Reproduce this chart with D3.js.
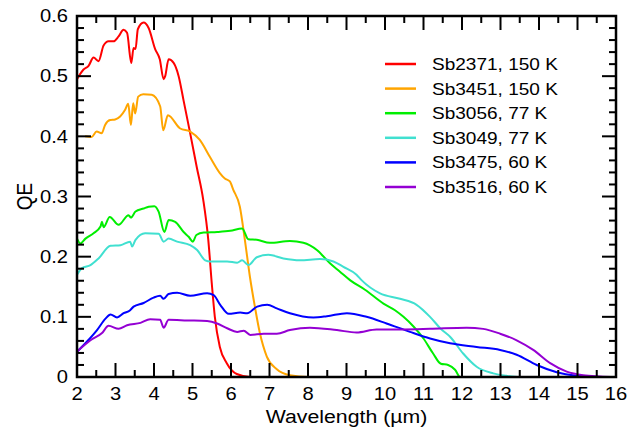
<!DOCTYPE html>
<html>
<head>
<meta charset="utf-8">
<script src="https://cdn.jsdelivr.net/npm/d3@7"></script>
<style>
  body { margin: 0; background: #fff; }
  text { font-family: "Liberation Sans", Arial, sans-serif; fill: #000; }
</style>
</head>
<body>
<div id="content"></div>
<script>
// QE spectra, [wavelength um, QE]
const sb2371 = [[2.00,0.495],[2.17,0.511],[2.30,0.517],[2.43,0.531],[2.56,0.525],[2.69,0.551],[2.82,0.558],[2.95,0.558],[3.08,0.566],[3.21,0.577],[3.30,0.572],[3.41,0.522],[3.47,0.547],[3.52,0.545],[3.58,0.578],[3.73,0.589],[3.86,0.580],[4.03,0.545],[4.15,0.528],[4.25,0.495],[4.29,0.500],[4.38,0.528],[4.51,0.522],[4.64,0.500],[4.77,0.459],[4.94,0.405],[5.11,0.349],[5.28,0.294],[5.41,0.228],[5.50,0.156],[5.58,0.100],[5.71,0.050],[5.89,0.023],[6.15,0.005],[6.50,0],[16,0]];
const sb3451 = [[2.21,0.400],[2.38,0.399],[2.51,0.408],[2.64,0.405],[2.73,0.419],[2.86,0.427],[2.99,0.428],[3.12,0.433],[3.25,0.444],[3.33,0.454],[3.40,0.419],[3.46,0.455],[3.51,0.438],[3.59,0.466],[3.72,0.470],[3.94,0.469],[4.16,0.450],[4.24,0.410],[4.36,0.435],[4.68,0.413],[4.94,0.408],[5.19,0.394],[5.45,0.366],[5.71,0.339],[5.84,0.330],[5.97,0.325],[6.06,0.311],[6.23,0.283],[6.36,0.228],[6.49,0.167],[6.62,0.117],[6.75,0.073],[6.93,0.034],[7.19,0.013],[7.53,0.003],[8.0,0],[16,0]];
const sb3056 = [[2.00,0.230],[2.09,0.222],[2.22,0.230],[2.43,0.239],[2.61,0.250],[2.65,0.258],[2.69,0.249],[2.85,0.266],[3.08,0.253],[3.34,0.269],[3.40,0.265],[3.52,0.275],[3.73,0.280],[3.86,0.283],[4.01,0.284],[4.12,0.275],[4.27,0.241],[4.38,0.261],[4.55,0.258],[4.77,0.241],[4.90,0.233],[5.01,0.225],[5.10,0.236],[5.29,0.240],[5.64,0.241],[5.98,0.243],[6.29,0.247],[6.45,0.229],[6.67,0.228],[7.01,0.223],[7.53,0.226],[7.88,0.223],[8.23,0.211],[8.57,0.189],[8.83,0.175],[9.09,0.161],[9.48,0.145],[9.96,0.122],[10.26,0.111],[10.48,0.100],[10.74,0.084],[11.00,0.064],[11.25,0.039],[11.45,0.022],[11.64,0.020],[11.82,0.012],[11.95,0],[16,0]];
const sb3049 = [[2.00,0.170],[2.13,0.181],[2.35,0.186],[2.56,0.197],[2.87,0.218],[3.13,0.219],[3.38,0.225],[3.43,0.217],[3.52,0.228],[3.77,0.239],[4.12,0.238],[4.25,0.225],[4.38,0.230],[4.60,0.225],[4.94,0.219],[5.12,0.211],[5.33,0.194],[5.46,0.192],[5.90,0.192],[6.16,0.190],[6.29,0.194],[6.45,0.186],[6.67,0.199],[6.97,0.203],[7.36,0.197],[7.79,0.194],[8.31,0.196],[8.66,0.192],[8.92,0.183],[9.26,0.170],[9.39,0.161],[9.87,0.139],[10.39,0.130],[10.82,0.120],[11.17,0.100],[11.45,0.080],[11.69,0.067],[12.03,0.039],[12.38,0.017],[12.81,0.006],[13.16,0.002],[13.5,0],[16,0]];
const sb3475 = [[2.00,0.042],[2.26,0.059],[2.52,0.078],[2.74,0.097],[2.87,0.104],[3.04,0.099],[3.21,0.106],[3.38,0.111],[3.47,0.117],[3.73,0.123],[3.99,0.132],[4.16,0.135],[4.25,0.130],[4.38,0.138],[4.60,0.140],[4.94,0.135],[5.38,0.139],[5.55,0.136],[5.72,0.120],[5.94,0.105],[6.24,0.107],[6.42,0.106],[6.68,0.117],[6.94,0.120],[7.19,0.114],[7.53,0.106],[8.14,0.099],[8.49,0.101],[9.01,0.106],[9.52,0.100],[10.04,0.089],[10.65,0.075],[11.17,0.064],[11.69,0.056],[12.38,0.050],[12.99,0.045],[13.42,0.037],[13.94,0.020],[14.46,0.008],[14.98,0.002],[15.5,0],[16,0]];
const sb3516 = [[2.00,0.042],[2.35,0.061],[2.65,0.073],[2.82,0.085],[3.08,0.080],[3.30,0.086],[3.65,0.090],[3.90,0.096],[4.16,0.095],[4.25,0.082],[4.38,0.095],[4.86,0.094],[5.38,0.093],[5.64,0.089],[5.90,0.081],[6.16,0.075],[6.33,0.077],[6.50,0.070],[6.85,0.072],[7.19,0.072],[7.53,0.078],[8.05,0.082],[8.75,0.078],[9.26,0.074],[9.78,0.079],[10.48,0.079],[11.17,0.080],[12.12,0.082],[12.55,0.080],[12.99,0.072],[13.42,0.061],[13.85,0.045],[14.29,0.023],[14.72,0.009],[15.15,0.003],[15.58,0.001],[16,0]];

const labels = ["Sb2371, 150 K", "Sb3451, 150 K", "Sb3056, 77 K", "Sb3049, 77 K", "Sb3475, 60 K", "Sb3516, 60 K"];
const colors = ["#ff0000", "#ffa500", "#00ee00", "#40e0d0", "#0000ff", "#9400d3"];
const series = [sb2371, sb3451, sb3056, sb3049, sb3475, sb3516];

const xTicks = d3.range(2, 17, 1);
const xMinor = d3.range(2.5, 16, 1);
const yTicks = [0, 0.1, 0.2, 0.3, 0.4, 0.5, 0.6];
const yMinor = d3.range(0, 0.601, 0.02).filter(v => Math.abs(v * 10 - Math.round(v * 10)) > 1e-6);

const width = 638, height = 432;
const mLeft = 77, mRight = 616, mTop = 16, mBottom = 377;
const sx = 1.12; // glyphs in the source are a bit wide

const svg = d3.select("#content").append("svg")
  .attr("width", width)
  .attr("height", height);

const x = d3.scaleLinear().domain([2, 16]).range([mLeft, mRight]);
const y = d3.scaleLinear().domain([0, 0.6]).range([mBottom, mTop]);

// curves
const curve = d3.line()
  .x(d => x(d[0]))
  .y(d => y(d[1]))
  .curve(d3.curveMonotoneX);

svg.append("g")
  .selectAll("path")
  .data(series)
  .join("path")
  .attr("fill", "none")
  .attr("stroke", (d, i) => colors[i])
  .attr("stroke-width", 2)
  .attr("stroke-linejoin", "round")
  .attr("d", curve);

// frame
svg.append("rect")
  .attr("x", mLeft).attr("y", mTop)
  .attr("width", mRight - mLeft).attr("height", mBottom - mTop)
  .attr("fill", "none")
  .attr("stroke", "#000")
  .attr("stroke-width", 2.5);

// ticks on all four sides, pointing inside, as small filled bars
const tickG = svg.append("g").attr("fill", "#000");
function xTickBars(vals, len) {
  tickG.append("g").selectAll("rect").data(vals).join("rect")
    .attr("x", d => x(d) - 1).attr("width", 2)
    .attr("y", mBottom - len).attr("height", len);
  tickG.append("g").selectAll("rect").data(vals).join("rect")
    .attr("x", d => x(d) - 1).attr("width", 2)
    .attr("y", mTop).attr("height", len);
}
function yTickBars(vals, len) {
  tickG.append("g").selectAll("rect").data(vals).join("rect")
    .attr("y", d => y(d) - 1).attr("height", 2)
    .attr("x", mLeft).attr("width", len);
  tickG.append("g").selectAll("rect").data(vals).join("rect")
    .attr("y", d => y(d) - 1).attr("height", 2)
    .attr("x", mRight - len).attr("width", len);
}
xTickBars(xTicks, 14);
xTickBars(xMinor, 7);
yTickBars(yTicks, 14);
yTickBars(yMinor, 7);

// tick labels
svg.append("g").selectAll("text").data(xTicks).join("text")
  .attr("transform", d => `translate(${x(d)},400) scale(${sx},1)`)
  .attr("text-anchor", "middle")
  .attr("font-size", 18)
  .text(d3.format("d"));

svg.append("g").selectAll("text").data(yTicks).join("text")
  .attr("transform", d => `translate(${mLeft - 9},${y(d)}) scale(${sx},1)`)
  .attr("text-anchor", "end")
  .attr("dy", "0.35em")
  .attr("font-size", 18)
  .text(d => d === 0 ? "0" : d3.format(".1f")(d));

// axis titles
svg.append("text")
  .attr("transform", `translate(${(mLeft + mRight) / 2},423) scale(${sx},1)`)
  .attr("text-anchor", "middle")
  .attr("font-size", 19)
  .text("Wavelength (\u00b5m)");

svg.append("text")
  .attr("transform", `translate(32,${(mTop + mBottom) / 2}) scale(${sx},1) rotate(-90)`)
  .attr("text-anchor", "middle")
  .attr("font-size", 19)
  .text("QE");

// legend
const legend = svg.append("g")
  .selectAll("g")
  .data(labels)
  .join("g")
  .attr("transform", (d, i) => `translate(385,${64 + i * 24.6})`);

legend.append("line")
  .attr("x1", 0).attr("x2", 31)
  .attr("stroke", (d, i) => colors[i])
  .attr("stroke-width", 2.5);

legend.append("text")
  .attr("transform", `translate(47,0) scale(${sx},1)`)
  .attr("dy", "0.35em")
  .attr("font-size", 17)
  .text(d => d);
</script>
</body>
</html>
